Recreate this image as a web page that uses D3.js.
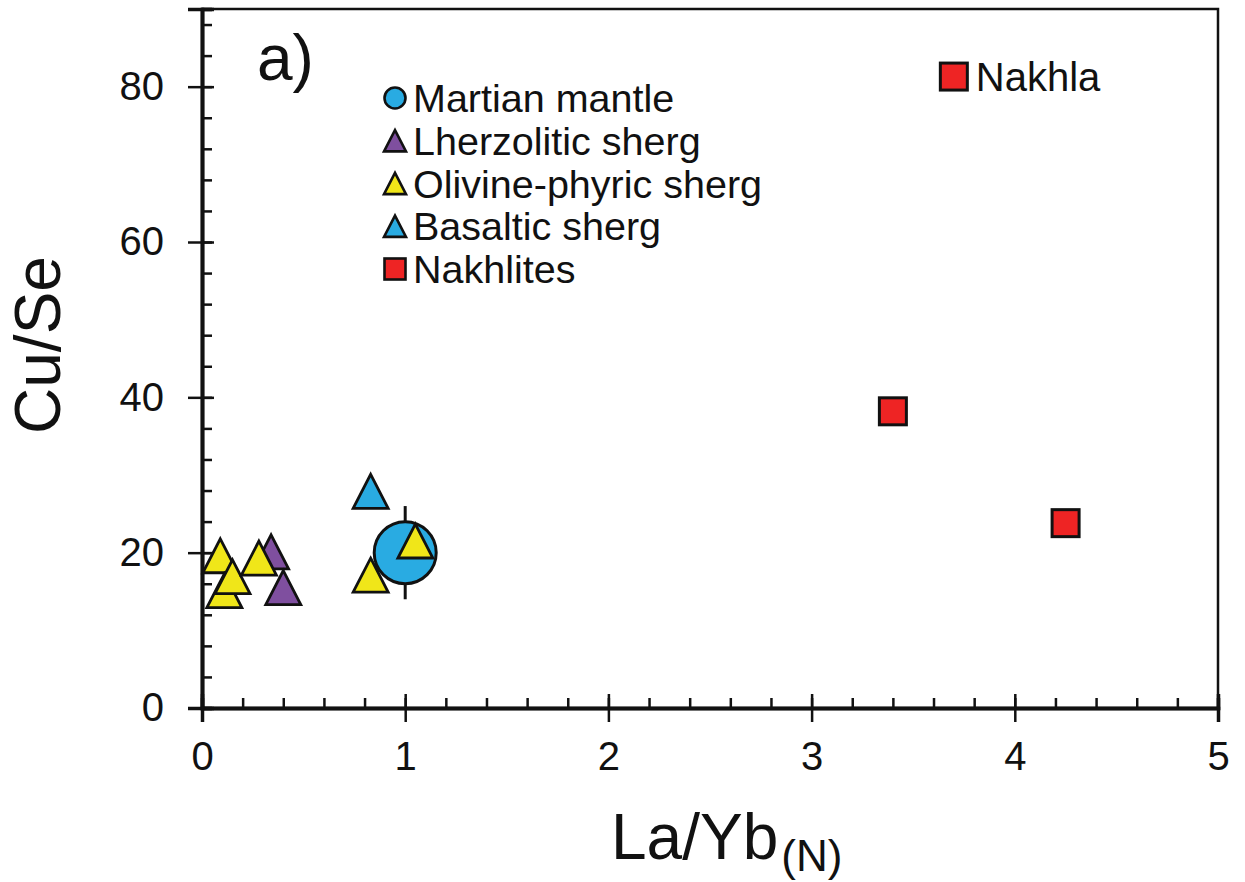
<!DOCTYPE html>
<html>
<head>
<meta charset="utf-8">
<script src="https://cdn.jsdelivr.net/npm/d3@7"></script>
<style>
  body { margin: 0; background: #fff; }
  text { font-family: "Liberation Sans", Arial, sans-serif; fill: #111; }
</style>
</head>
<body>
<div id="my_dataviz"></div>
<script>
// data
var mantleX = [1.0], mantleY = [20], mantleErr = [6];
var lherzX = [0.34, 0.40], lherzY = [20.1, 15.5];
var olivX = [0.09, 0.11, 0.15, 0.28, 0.83, 1.05], olivY = [19.6, 15.1, 16.9, 19.3, 17.1, 21.5];
var basaltX = [0.83], basaltY = [27.9];
var nakhX = [3.40, 4.25, 3.70], nakhY = [38.2, 23.8, 81.3];
var nakhNames = ["", "", "Nakhla"];
var xMajor = [0, 1, 2, 3, 4, 5];
var yMajor = [0, 20, 40, 60, 80];
var legendNames = ["Martian mantle", "Lherzolitic sherg", "Olivine-phyric sherg", "Basaltic sherg", "Nakhlites"];

var colors = { blue: "#29abe2", purple: "#7f4f9f", yellow: "#f0e619", red: "#ee2424" };

// set the dimensions and margins of the graph
var width = 1245, height = 882;
var margin = {left: 202, right: 27, top: 9, bottom: 174};

var svg = d3.select("#my_dataviz")
  .append("svg")
    .attr("width", width)
    .attr("height", height);

var x = d3.scaleLinear().domain([0, 5]).range([margin.left, width - margin.right]);
var y = d3.scaleLinear().domain([0, 90]).range([height - margin.bottom, margin.top]);

// minor ticks
var xMinor = d3.range(0, 5.001, 0.2).map(function(d) { return +d.toFixed(1); });
var yMinor = d3.range(0, 89, 4);

// frame top + right
svg.append("path")
  .attr("d", "M" + x(0) + "," + y(90) + "H" + x(5) + "V" + y(0))
  .attr("fill", "none").attr("stroke", "#111").attr("stroke-width", 2.5);

// x axis: inward minor ticks, crossing major ticks
var gx = svg.append("g").attr("transform", "translate(0," + y(0) + ")");
gx.append("g").call(d3.axisTop(x).tickValues(xMinor).tickSize(10).tickFormat(""));
gx.append("g").call(d3.axisTop(x).tickValues(xMajor).tickSize(14).tickFormat(""));
gx.append("g").call(d3.axisBottom(x).tickValues(xMajor).tickSize(14).tickPadding(20)
    .tickFormat(d3.format("d")));
gx.selectAll("path.domain").attr("stroke-width", 3.5).attr("stroke", "#111");
gx.selectAll(".tick line").attr("stroke-width", 2.5).attr("stroke", "#111");
gx.selectAll(".tick text").style("font-size", "40px").attr("dy", "0.71em");

// y axis
var gy = svg.append("g").attr("transform", "translate(" + x(0) + ",0)");
gy.append("g").call(d3.axisRight(y).tickValues(yMinor).tickSize(10).tickFormat(""));
gy.append("g").call(d3.axisRight(y).tickValues(yMajor).tickSize(12).tickFormat(""));
gy.append("g").call(d3.axisLeft(y).tickValues(yMajor).tickSize(14).tickPadding(24)
    .tickFormat(d3.format("d")));
gy.selectAll("path.domain").attr("stroke-width", 3.5).attr("stroke", "#111");
gy.selectAll(".tick line").attr("stroke-width", 2.5).attr("stroke", "#111");
gy.selectAll(".tick text").style("font-size", "40px");

// axis titles
svg.append("text")
  .attr("transform", "translate(60," + 345 + ") rotate(-90)")
  .attr("text-anchor", "middle")
  .style("font-size", "64px")
  .text("Cu/Se");

var xt = svg.append("text")
  .attr("x", 611).attr("y", 859)
  .style("font-size", "64px");
xt.append("tspan").text("La/Yb");
xt.append("tspan").attr("dy", 12).attr("dx", 3).style("font-size", "44px").text("(N)");

// panel label
svg.append("text").attr("x", 257).attr("y", 80).style("font-size", "64px").text("a)");

function triPath(w) {
  // triangle w wide, centred on its bounding box
  var h = w * 0.97;
  return "M0," + (-h / 2) + "L" + (w / 2) + "," + (h / 2) + "L" + (-w / 2) + "," + (h / 2) + "Z";
}

// error bar for mantle, then the markers
svg.selectAll(".err").data(mantleX).enter().append("line")
  .attr("x1", function(d) { return x(d); })
  .attr("x2", function(d) { return x(d); })
  .attr("y1", function(d, i) { return y(mantleY[i] + mantleErr[i]); })
  .attr("y2", function(d, i) { return y(mantleY[i] - mantleErr[i]); })
  .attr("stroke", "#111").attr("stroke-width", 3);

function drawTri(xs, ys, fill) {
  svg.append("g").selectAll("path").data(xs).enter().append("path")
    .attr("d", triPath(35))
    .attr("transform", function(d, i) { return "translate(" + x(d) + "," + y(ys[i]) + ")"; })
    .attr("fill", fill).attr("stroke", "#111").attr("stroke-width", 2.8);
}

drawTri(lherzX, lherzY, colors.purple);
drawTri(basaltX, basaltY, colors.blue);

svg.append("g").selectAll("circle").data(mantleX).enter().append("circle")
  .attr("cx", function(d) { return x(d); })
  .attr("cy", function(d, i) { return y(mantleY[i]); })
  .attr("r", 31)
  .attr("fill", colors.blue).attr("stroke", "#111").attr("stroke-width", 3);

drawTri(olivX, olivY, colors.yellow);

svg.append("g").selectAll("rect").data(nakhX).enter().append("rect")
  .attr("x", function(d) { return x(d) - 13.5; })
  .attr("y", function(d, i) { return y(nakhY[i]) - 13.5; })
  .attr("width", 27).attr("height", 27)
  .attr("fill", colors.red).attr("stroke", "#111").attr("stroke-width", 3);

svg.append("g").selectAll("text").data(nakhX).enter().append("text")
  .attr("x", function(d) { return x(d) + 22; })
  .attr("y", function(d, i) { return y(nakhY[i]); })
  .attr("dy", "0.36em")
  .style("font-size", "40px")
  .text(function(d, i) { return nakhNames[i]; });

// legend
var legY = d3.scalePoint().domain(legendNames).range([98, 269]);
var legFill = [colors.blue, colors.purple, colors.yellow, colors.blue, colors.red];
var leg = svg.append("g").selectAll("g").data(legendNames).enter().append("g")
  .attr("transform", function(d) { return "translate(395," + legY(d) + ")"; });
leg.each(function(d, i) {
  var g = d3.select(this);
  var mk;
  if (i == 0) mk = g.append("circle").attr("r", 10.5);
  else if (i == 4) mk = g.append("rect").attr("x", -10.5).attr("y", -10.5).attr("width", 21).attr("height", 21);
  else mk = g.append("path").attr("d", triPath(22));
  mk.attr("fill", legFill[i]).attr("stroke", "#111").attr("stroke-width", 2.6);
  g.append("text").attr("x", 18).attr("dy", "0.36em").style("font-size", "39.5px").text(d);
});
</script>
</body>
</html>
